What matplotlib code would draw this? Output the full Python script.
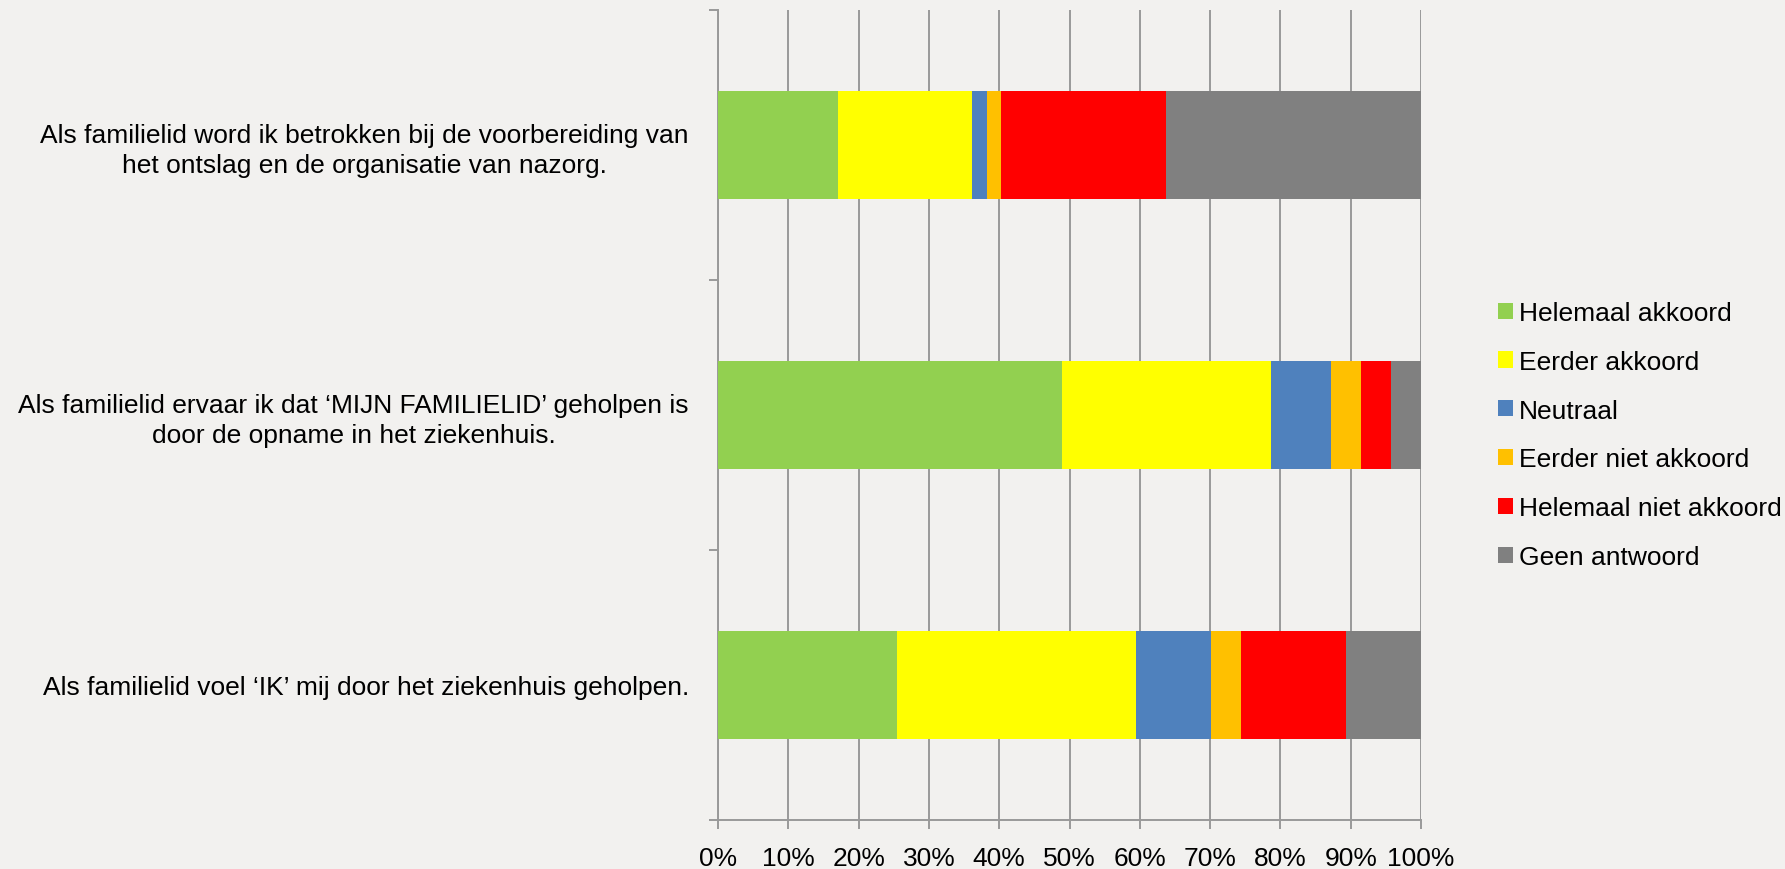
import matplotlib
matplotlib.use("Agg")
import matplotlib.pyplot as plt
import numpy as np

plt.rcParams['font.family'] = ['Liberation Sans', 'DejaVu Sans']

categories = [
    "Als familielid word ik betrokken bij de voorbereiding van\nhet ontslag en de organisatie van nazorg.",
    "Als familielid ervaar ik dat \u2018MIJN FAMILIELID\u2019 geholpen is\ndoor de opname in het ziekenhuis.",
    "Als familielid voel \u2018IK\u2019 mij door het ziekenhuis geholpen.",
]
series_names = ["Helemaal akkoord", "Eerder akkoord", "Neutraal",
                "Eerder niet akkoord", "Helemaal niet akkoord", "Geen antwoord"]
helemaal_akkoord = [0.170, 0.489, 0.255]
eerder_akkoord = [0.191, 0.298, 0.340]
neutraal = [0.021, 0.085, 0.106]
eerder_niet_akkoord = [0.021, 0.043, 0.043]
helemaal_niet_akkoord = [0.234, 0.043, 0.149]
geen_antwoord = [0.363, 0.042, 0.107]
colors = ["#92D050", "#FFFF00", "#4F81BD", "#FFC000", "#FF0000", "#808080"]
xticks = np.arange(0, 1.01, 0.1)
xtick_labels = ["0%", "10%", "20%", "30%", "40%", "50%", "60%", "70%", "80%", "90%", "100%"]

series = [helemaal_akkoord, eerder_akkoord, neutraal,
          eerder_niet_akkoord, helemaal_niet_akkoord, geen_antwoord]

bg = "#F2F1EF"
grid_c = "#999999"
W, H = 1785, 870
fig = plt.figure(figsize=(W / 100, H / 100), dpi=100, facecolor=bg)
ax = fig.add_axes([718 / W, 49 / H, (1421 - 718) / W, 810 / H], facecolor=bg)

y = np.arange(len(categories))
left = np.zeros(len(categories))
for name, vals, c in zip(series_names, series, colors):
    ax.barh(y, vals, left=left, height=0.4, color=c, label=name, zorder=3)
    left += np.array(vals)

ax.set_xlim(0, 1)
ax.set_ylim(2.5, -0.5)
ax.set_xticks(xticks)
ax.set_xticklabels(xtick_labels, fontsize=19)
ax.set_yticks(y)
ax.set_yticklabels(categories, fontsize=19, ha='right', multialignment='center', linespacing=1.3)
ax.set_yticks([-0.5, 0.5, 1.5, 2.5], minor=True)
ax.tick_params(axis='y', which='major', length=0, pad=21)
ax.tick_params(axis='y', which='minor', length=6.5, width=1.4, color=grid_c, direction='out')
ax.tick_params(axis='x', which='major', length=6.5, width=1.4, color=grid_c, direction='out', pad=12)
ax.xaxis.grid(True, color=grid_c, linewidth=1.4, zorder=0)
ax.set_axisbelow(True)
for s in ['top', 'right']:
    ax.spines[s].set_visible(False)
for s in ['left', 'bottom']:
    ax.spines[s].set_color(grid_c)
    ax.spines[s].set_linewidth(1.4)

fig.legend(loc='center left', bbox_to_anchor=(1498 / W, (H - 436) / H), frameon=False,
           fontsize=19, borderpad=0, handlelength=0.57, handleheight=0.57,
           handletextpad=0.23, labelspacing=0.94, borderaxespad=0)

fig.savefig("out.png", dpi=100, facecolor=bg)
